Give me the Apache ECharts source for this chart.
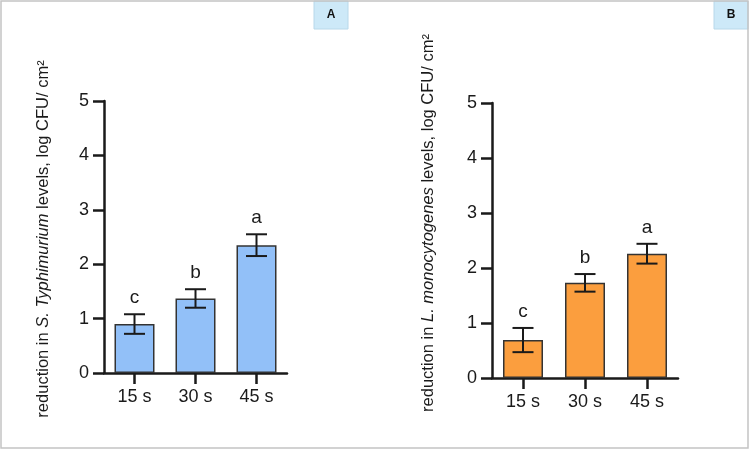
<!DOCTYPE html>
<html><head><meta charset="utf-8">
<script src="https://cdn.jsdelivr.net/npm/echarts@6/dist/echarts.min.js"></script>
<style>html,body{margin:0;padding:0;background:#fff}#c{width:750px;height:450px}</style>
</head><body><div id="c"></div>
<script>
const categories = ['15 s', '30 s', '45 s'];
const yTicks = [0, 1, 2, 3, 4, 5];
const meansA = [0.90, 1.37, 2.35];
const errA = [0.18, 0.17, 0.20];
const lettersA = ['c', 'b', 'a'];
const meansB = [0.69, 1.73, 2.26];
const errB = [0.22, 0.16, 0.18];
const lettersB = ['c', 'b', 'a'];

const FONT = 'Liberation Sans, Arial, sans-serif';
const chart = echarts.init(document.getElementById('c'));

function errItem(params, api) {
  const x = api.value(0), m = api.value(1), e = api.value(2);
  const top = api.coord([x, m + e]);
  const bot = api.coord([x, m - e]);
  const half = 10.5;
  const st = { stroke: '#1a1a1a', lineWidth: 2 };
  return { type: 'group', children: [
    { type: 'line', shape: { x1: top[0], y1: top[1], x2: bot[0], y2: bot[1] }, style: st },
    { type: 'line', shape: { x1: top[0] - half, y1: top[1], x2: top[0] + half, y2: top[1] }, style: st },
    { type: 'line', shape: { x1: bot[0] - half, y1: bot[1], x2: bot[0] + half, y2: bot[1] }, style: st },
    { type: 'text', x: top[0], y: top[1] - 7, style: { text: api.value(3), font: '19px ' + FONT, fill: '#1a1a1a', align: 'center', verticalAlign: 'bottom' } }
  ]};
}

function axes(idx) {
  return {
    x: { type: 'category', gridIndex: idx, data: categories,
      axisLine: { lineStyle: { color: '#1a1a1a', width: 2.5 } },
      axisTick: { show: true, alignWithLabel: true, length: 11, lineStyle: { color: '#1a1a1a', width: 2.5 } },
      axisLabel: { color: '#1a1a1a', fontSize: 18, fontFamily: FONT, margin: 15 } },
    y: { type: 'value', gridIndex: idx, min: 0, max: 5, interval: 1,
      axisLine: { show: true, lineStyle: { color: '#1a1a1a', width: 2.5 } },
      axisTick: { show: true, length: 11, lineStyle: { color: '#1a1a1a', width: 2.5 } },
      splitLine: { show: false },
      axisLabel: { color: '#1a1a1a', fontSize: 18, fontFamily: FONT, margin: 15,
        formatter: v => yTicks.includes(v) ? String(v) : '' } }
  };
}
const a0 = axes(0), a1 = axes(1);

const richBase = { n: { fontSize: 16.5, fontFamily: FONT, fill: '#1a1a1a' }, i: { fontSize: 16.5, fontFamily: FONT, fontStyle: 'italic', fill: '#1a1a1a' } };

chart.setOption({
  animation: false,
  grid: [
    { left: 104, top: 101, width: 183, height: 272 },
    { left: 492, top: 103, width: 186, height: 275 }
  ],
  xAxis: [a0.x, a1.x],
  yAxis: [a0.y, a1.y],
  graphic: [
    { type: 'rect', shape: { x: 1, y: 1, width: 747, height: 447 }, style: { fill: 'none', stroke: '#c4c4c4', lineWidth: 1.5 }, z: 100 },
    { type: 'rect', shape: { x: 314, y: 1, width: 34, height: 28 }, style: { fill: '#cde9f8', stroke: '#b8d8ea', lineWidth: 1 } },
    { type: 'text', x: 331, y: 15, style: { text: 'A', font: 'bold 12px ' + FONT, fill: '#111', align: 'center', verticalAlign: 'middle' } },
    { type: 'rect', shape: { x: 714, y: 1, width: 34, height: 28 }, style: { fill: '#cde9f8', stroke: '#b8d8ea', lineWidth: 1 } },
    { type: 'text', x: 731, y: 15, style: { text: 'B', font: 'bold 12px ' + FONT, fill: '#111', align: 'center', verticalAlign: 'middle' } },
    { type: 'text', x: 43, y: 239, rotation: Math.PI / 2,
      style: { text: '{n|reduction in }{i|S. Typhimurium}{n| levels, log CFU/ cm²}', rich: richBase, align: 'center', verticalAlign: 'middle' } },
    { type: 'text', x: 428, y: 223, rotation: Math.PI / 2,
      style: { text: '{n|reduction in }{i|L. monocytogenes}{n| levels, log CFU/ cm²}', rich: richBase, align: 'center', verticalAlign: 'middle' } }
  ],
  series: [
    { type: 'bar', xAxisIndex: 0, yAxisIndex: 0, data: meansA, barWidth: 40,
      itemStyle: { color: '#92c0f8', borderColor: '#333', borderWidth: 1.5 } },
    { type: 'bar', xAxisIndex: 1, yAxisIndex: 1, data: meansB, barWidth: 40,
      itemStyle: { color: '#fb9e3e', borderColor: '#333', borderWidth: 1.5 } },
    { type: 'custom', xAxisIndex: 0, yAxisIndex: 0, renderItem: errItem, z: 5,
      data: meansA.map((m, i) => [i, m, errA[i], lettersA[i]]) },
    { type: 'custom', xAxisIndex: 1, yAxisIndex: 1, renderItem: errItem, z: 5,
      data: meansB.map((m, i) => [i, m, errB[i], lettersB[i]]) }
  ]
});
</script></body></html>
